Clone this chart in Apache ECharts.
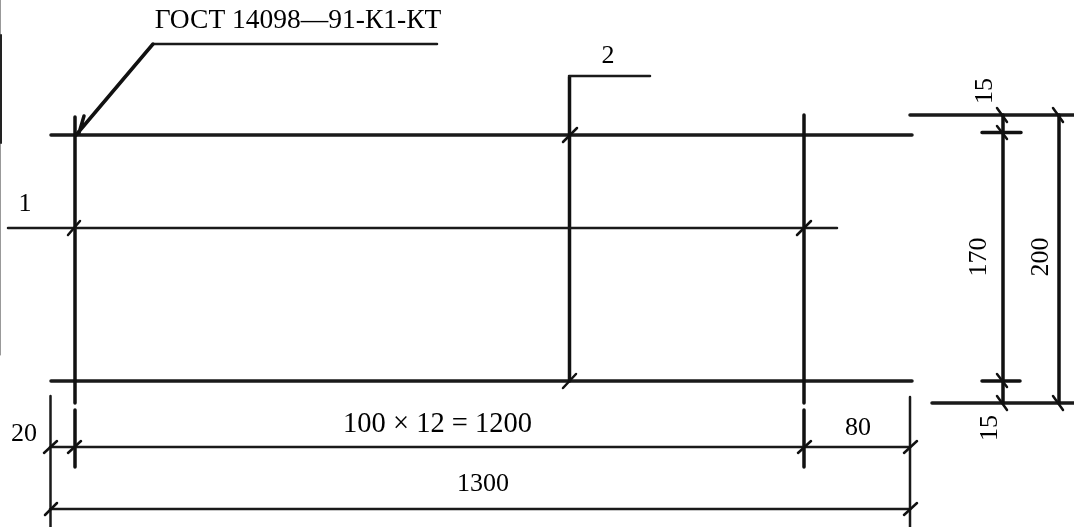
<!DOCTYPE html>
<html><head><meta charset="utf-8">
<style>html,body{margin:0;padding:0;background:#fff}#c{width:1074px;height:527px}</style>
<script src="https://cdn.jsdelivr.net/npm/echarts@6/dist/echarts.min.js"></script>
</head><body><div id="c"></div>
<script>
// Each segment: [x1, y1, x2, y2] in drawing units
const rails = [[51,135,912,135],[51,381,912,381],[910,115,1074,115],[932,403,1074,403]];
const bars = [[75,117,75,403],[75,410,75,467],[804,115,804,403],[804,410,804,467],[569.5,77,569.5,381],
  [1003,115,1003,403],[982,132.5,1021,132.5],[982,381,1020,381],[1059,115,1059,403]];
const thin = [[8,228,837,228],[50.5,396,50.5,527],[910,397,910,527],[50,447,910,447],[50,509,910,509],
  [153,44,437,44],[569,76,650,76]];
const leaderLine = [[153,44,76,135],[84,116,79,133]];
const ticks = [[68,235,80,221],[563,142,577,128],[563,388,576,374],[797,235,811,221],
  [44,453,57,441],[68,453,81,441],[798,453,811,441],[904,453,917,441],
  [45,515,57,503],[904,515,917,503],
  [997,108,1007,122],[997,126,1007,139],[997,374,1007,387],[997,396,1007,410],
  [1053,108,1063,122],[1053,396,1063,410]];
const edge = [[0.5,0,0.5,355]];
const edgeDark = [[1,35,1,143]];

const labelTexts = ['ГОСТ 14098—91-К1-КТ','1','2','20','100 × 12 = 1200','80','1300','15','170','200','15'];
const labelX = [298,25,608,24,437.5,858,483,985,979,1041,990];
const labelY = [21,204,56,434,425,428,484,91,257,257,428];
const labelRot = [0,0,0,0,0,0,0,90,90,90,90];
const labelSize = [27.5,26,26,26,28.5,26,26,26,26,26,26];

function seriesFrom(segs,width,color){
  const data=[];
  segs.forEach(s=>{data.push([s[0],s[1]],[s[2],s[3]],[null,null]);});
  return {type:'line',data,showSymbol:false,symbol:'none',silent:true,connectNulls:false,
    lineStyle:{width,color,cap:'round',join:'round'},animation:false,z:2};
}
const chart = echarts.init(document.getElementById('c'),null,{renderer:'canvas'});
chart.setOption({
  backgroundColor:'#fff',animation:false,
  grid:{left:0,right:0,top:0,bottom:0},
  xAxis:{type:'value',min:0,max:1074,show:false},
  yAxis:{type:'value',min:0,max:527,inverse:true,show:false},
  series:[
    seriesFrom(rails,3.5,'#1a1a1a'),
    seriesFrom(bars,3.5,'#111'),
    seriesFrom(thin,2.5,'#1a1a1a'),
    seriesFrom(leaderLine,3.5,'#111'),
    seriesFrom(ticks,2.5,'#111'),
    seriesFrom(edge,1,'#999'),
    seriesFrom(edgeDark,2,'#222'),
    {type:'scatter',symbolSize:0,silent:true,z:5,
     data:labelTexts.map((t,i)=>({value:[labelX[i],labelY[i]],
       itemStyle:{opacity:1},
       label:{show:true,position:'inside',formatter:t,rotate:labelRot[i],color:'#000',opacity:1,
         fontFamily:'Liberation Serif',fontSize:labelSize[i],align:'center',verticalAlign:'middle'}}))}
  ]
});
</script></body></html>
